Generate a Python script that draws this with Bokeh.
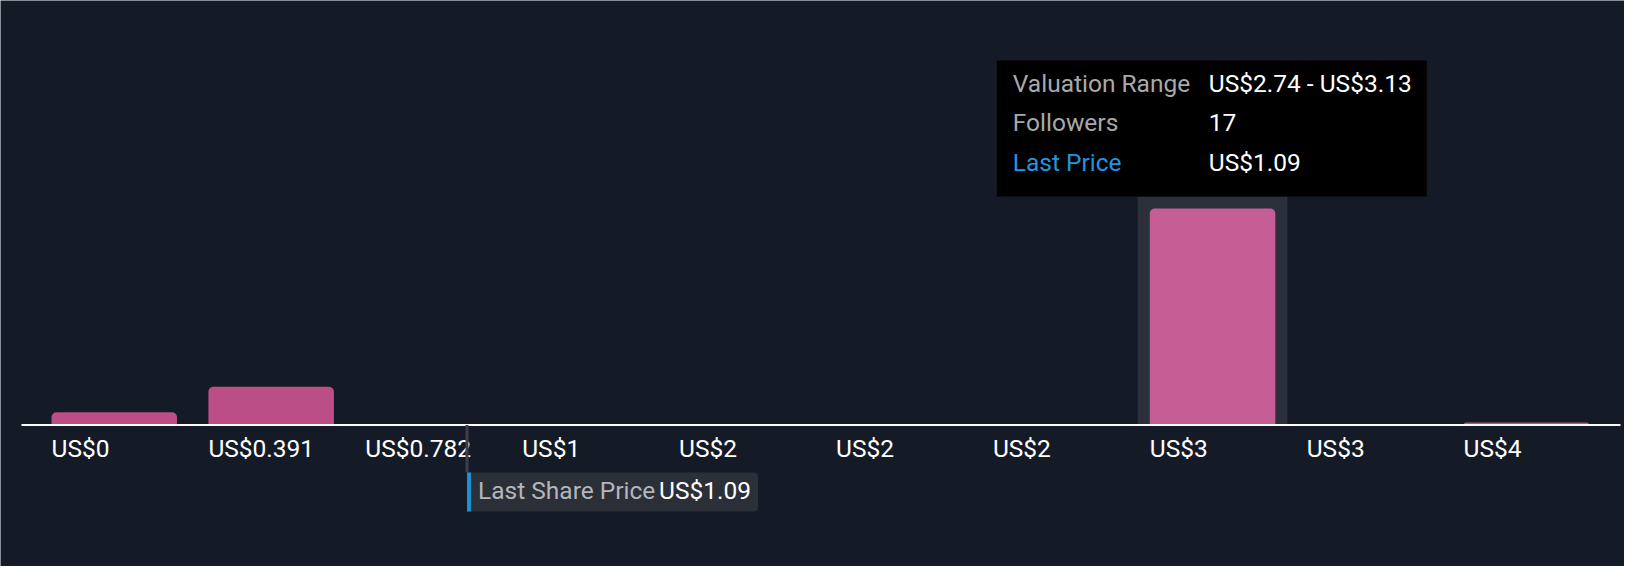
from bokeh.plotting import figure
from bokeh.models import Range1d
from bokeh.core.properties import value
from bokeh.embed import file_html
from bokeh.resources import INLINE

# histogram of fair value estimates
bin_width = 0.391
bin_starts = [0.0, 0.391, 0.782, 1.173, 1.564, 1.955, 2.346, 2.737, 3.128, 3.519]
tick_labels = ["US$0", "US$0.391", "US$0.782", "US$1", "US$2", "US$2", "US$2", "US$3", "US$3", "US$4"]
followers = [1, 3, 0, 0, 0, 0, 0, 17, 0, 0.2]

last_price = 1.09
last_price_text = "US$1.09"

hover_bin = 7
tip_labels = ["Valuation Range", "Followers", "Last Price"]
tip_values = ["US$2.74 - US$3.13", "17", "US$1.09"]

BG = "#151b26"
BAR = "#bb4d87"
BAR_HI = "#c45e94"
FONT = value("Roboto")
FS = "24.5px"

W, H = 1624, 566
UX = 156.9   # pixels per bin
UY = 12.74   # pixels per follower
X0, Y0 = 51, 424.5   # where bin 0 / zero followers sit in the frame
TXT = 9      # lift for alphabetic text baseline


def px(n):
    return n / UX


def py(n):
    return n / UY


p = figure(width=W, height=H, output_backend="svg", toolbar_location=None,
           x_range=Range1d(-X0 / UX, (W - X0) / UX),
           y_range=Range1d(-(H - Y0) / UY, Y0 / UY),
           min_border=0, background_fill_color=BG, border_fill_color=BG,
           outline_line_color=None)
p.xaxis.visible = False
p.yaxis.visible = False
p.xgrid.visible = False
p.ygrid.visible = False

n = len(bin_starts)
idx = list(range(n))

# hover highlight behind the selected bar
p.quad(left=[hover_bin - px(12)], right=[hover_bin + 0.8 + px(12)], bottom=[0],
       top=[followers[hover_bin] + py(12)], fill_color="#2c303a", line_color=None)

colors = [BAR_HI if i == hover_bin else BAR for i in idx]
p.vbar(x=[i + 0.4 for i in idx], width=0.8, top=followers, bottom=0,
       fill_color=colors, line_color=None, border_radius=[5, 5, 0, 0])

# baseline
p.segment(x0=[-px(30)], y0=[0], x1=[n], y1=[0], line_color="white", line_width=2)

p.text(x=idx, y=[-py(32.5 - TXT)] * n, text=tick_labels, text_color="white",
       text_font=FONT, text_font_size=FS, text_baseline="alphabetic")

# last share price marker (scale runs from first bar start to last bar centre)
price_x = last_price / (n * bin_width) * (n - 0.5)
p.segment(x0=[price_x], y0=[0], x1=[price_x], y1=[-py(47.5)], line_color="#3b4049", line_width=3)
p.quad(left=[price_x], right=[price_x + px(291)], top=[-py(47.5)], bottom=[-py(86.5)],
       fill_color="#2b2f38", line_color=None, border_radius=[0, 4, 4, 0])
p.quad(left=[price_x], right=[price_x + px(4)], top=[-py(47.5)], bottom=[-py(86.5)],
       fill_color="#1e8fd6", line_color=None)
p.text(x=[price_x + px(11)], y=[-py(74.5 - TXT)], text=["Last Share Price"], text_color="#b3b6bb",
       text_font=FONT, text_font_size=FS, text_baseline="alphabetic")
p.text(x=[price_x + px(192)], y=[-py(74.5 - TXT)], text=[last_price_text], text_color="white",
       text_font=FONT, text_font_size=FS, text_baseline="alphabetic")

# tooltip for the hovered bin
tip_bottom = followers[hover_bin] + py(12)
p.quad(left=[hover_bin - px(153)], right=[hover_bin + px(277)], bottom=[tip_bottom],
       top=[tip_bottom + py(136)], fill_color="black", line_color=None)
row_y = [tip_bottom + py(104 + TXT), tip_bottom + py(64.5 + TXT), tip_bottom + py(25 + TXT)]
p.text(x=[hover_bin - px(137)] * 3, y=row_y, text=tip_labels,
       text_color=["#a9a9a9", "#a9a9a9", "#2394df"],
       text_font=FONT, text_font_size=FS, text_baseline="alphabetic")
p.text(x=[hover_bin + px(59)] * 3, y=row_y, text=tip_values, text_color="white",
       text_font=FONT, text_font_size=FS, text_baseline="alphabetic")

open("out.html", "w").write(file_html(p, INLINE))
